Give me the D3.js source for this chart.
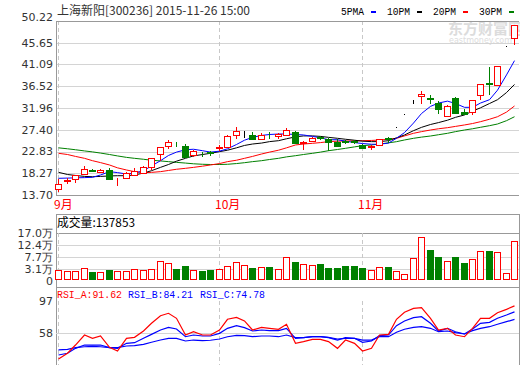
<!DOCTYPE html>
<html>
<head>
<meta charset="utf-8">
<script src="https://cdn.jsdelivr.net/npm/d3@7"></script>
<style>
  body { margin: 0; background: #fff; }
  svg { display: block; }
</style>
</head>
<body>
<svg class="chart" width="520" height="365"></svg>
<script>
// trading days shown (2015-09-02 .. 2015-11-26)
var days = [
  "09-02","09-07","09-08","09-09","09-10","09-11","09-14","09-15","09-16","09-17",
  "09-18","09-21","09-22","09-23","09-24","09-25","09-28","09-29","09-30",
  "10-08","10-09","10-12","10-13","10-14","10-15","10-16","10-19","10-20","10-21",
  "10-22","10-23","10-26","10-27","10-28","10-29","10-30",
  "11-02","11-03","11-04","11-05","11-06","11-09","11-10","11-11","11-12","11-13",
  "11-16","11-17","11-18","11-19","11-20","11-23","11-24","11-25","11-26"
];
var monthStarts = ["09-02", "10-08", "11-02"];
var monthLabels = ["9月", "10月", "11月"];

var open  = [14.96,16.65,17.0,18.1,18.85,18.63,18.95,16.55,17.27,17.9, 18.4,19.51,22.24,23.98,24.45,23.98,22.03,22.4,22.7,23.6, 23.71,26.36,26.5,26.29,25.39,26.6,26.08,26.29,27.0,24.6, 25.03,25.9,25.39,24.89,25.0,25.05,24.2,23.75,24.19,25.7, 27.91,30.64,33.64,34.5,34.1,32.95,30.34,34.0,31.18,31.06, 34.75,37.3,36.79,45.03,46.59];
var high  = [17.0,17.2,17.96,19.72,19.22,19.09,19.4,17.25,18.6,19.43, 19.85,21.4,23.71,25.24,24.75,24.34,23.1,22.65,22.95,24.19, 26.29,28.04,27.07,26.86,26.78,26.93,26.78,27.76,27.2,25.1, 25.81,26.1,25.6,25.38,25.3,25.3,24.4,24.1,25.5,25.94, 27.91,30.64,33.64,35.5,34.69,33.43,32.65,34.2,31.69,33.64, 36.93,40.63,40.78,45.03,49.38];
var low   = [14.54,16.3,16.37,18.1,18.67,18.53,17.0,15.9,17.27,17.8, 18.4,19.2,21.05,23.5,23.95,21.6,21.9,21.95,22.2,23.14, 23.71,25.6,25.94,25.39,25.39,25.6,25.6,26.29,24.68,23.3, 25.03,25.4,23.14,24.05,24.6,24.6,23.5,23.35,24.19,24.89, 27.91,30.64,32.95,32.95,32.95,30.85,30.34,30.97,30.64,30.76, 33.85,34.84,36.79,45.03,45.4];
var close = [16.01,16.75,17.96,19.09,18.75,18.95,17.1,16.7,18.25,18.8, 19.5,21.4,23.71,24.89,24.3,21.74,23.0,22.25,22.55,23.8, 26.15,27.07,26.5,25.39,26.36,26.4,26.44,27.34,24.68,24.8, 25.6,25.7,24.89,24.05,24.85,24.9,23.5,23.9,25.38,25.5, 27.91,30.64,33.64,34.9,33.9,31.69,32.38,30.97,30.64,33.64, 36.93,37.0,40.78,45.03,49.38];

var ma5  = [17.2,17.25,17.3,17.35,17.41,17.9,18.6,18.4,18.1,18.3, 18.8,19.8,20.9,22.0,22.7,23.2,23.3,23.0,22.7,22.9, 23.4,24.3,25.2,25.8,26.2,26.4,26.5,26.5,26.4,26.3, 26.0,25.7,25.3,25.3,25.0,24.7,24.5,24.35,24.35,24.6, 25.6,26.8,28.8,30.8,32.3,33.0,33.4,32.9,32.1,32.1, 33.0,33.7,35.7,38.9,41.9];
var ma10 = [18.46,18.0,17.8,17.6,17.54,17.6,17.7,17.75,17.75,17.9, 18.3,18.8,19.5,20.1,20.8,21.4,21.9,22.2,22.45,22.8, 23.1,23.6,24.1,24.4,24.6,24.9,25.1,25.5,25.9,26.1, 26.1,26.0,25.8,25.6,25.4,25.2,25.0,24.9,24.9,25.1, 25.7,26.3,27.2,27.9,28.5,28.9,29.4,30.0,30.5,31.3, 32.0,32.9,33.7,35.2,36.9];
var ma20 = [22.45,22.2,21.8,21.4,20.9,20.5,20.0,19.4,18.95,18.6, 18.38,18.45,18.6,18.85,19.1,19.3,19.5,19.75,20.0,20.3, 20.7,21.0,21.4,21.8,22.3,22.7,23.1,23.6,24.2,24.4, 24.55,24.7,24.9,25.0,25.03,25.05,25.1,25.15,25.24,25.4, 25.6,26.1,26.65,27.0,27.34,27.6,27.83,28.1,28.4,28.7, 29.09,29.6,30.13,31.1,32.38];
var ma30 = [23.6,23.4,23.2,22.95,22.75,22.5,22.2,21.9,21.6,21.4, 21.2,21.0,20.85,20.7,20.55,20.4,20.25,20.15,20.1,20.1, 20.15,20.3,20.48,20.7,20.9,21.15,21.4,21.7,21.95,22.2, 22.45,22.7,23.0,23.25,23.5,23.8,24.05,24.2,24.4,24.65, 24.89,25.25,25.6,25.85,26.08,26.35,26.65,27.0,27.34,27.6, 27.91,28.25,28.6,29.3,30.13];

// volume in 万 (10k shares)
var volume = [2.83,2.56,2.56,3.49,2.17,2.06,2.83,2.56,2.56,3.1, 3.0,3.2,6.3,5.53,3.2,4.37,2.83,2.56,2.83,3.2, 4.37,5.9,4.75,3.6,3.87,4.1,3.1,7.73,5.92,5.15, 4.64,5.15,3.6,3.6,4.37,4.37,3.6,2.83,3.87,3.99, 2.44,1.29,7.34,15.46,10.55,7.85,6.3,7.85,5.53,6.96, 10.17,10.17,9.78,1.67,13.7853];

var rsiA = [25.8,32.9,43.1,55.5,51.4,54.3,40.3,35.7,51.4,52.6, 60.5,70,79.4,82.4,76.2,55.5,59.6,55.5,55.5,61.7, 75,77.4,72.9,61.7,65,63.8,62.6,68.8,45.2,47.3, 50.2,50.2,47.3,39,49.3,45.2,35.7,39,55.5,56.3, 75,83.6,88.5,89.3,76.2,61.7,63.8,55.5,53.4,63.8, 76.2,76.2,83.1,87.3,91.62];
var rsiB = [30.8,32.9,39,43.1,43.1,43.1,39.8,39,45.2,46, 51.4,56.3,61.7,65,63,53.4,55.5,54.3,54.3,57.6, 63.8,67,64.6,60.5,61.7,60.9,60.9,63.8,51.4,52.2, 53.4,53.4,52.2,49.3,52.2,51.4,46.5,48.1,54.7,55.5, 67,72.9,77,78.2,70,60.5,63.8,59.6,56.8,63, 70,71.2,76.2,80.3,84.21];
var rsiC = [37,37.8,39.8,41,41.5,41,39.8,39.8,41.9,42.3, 44,46.5,49.3,51.4,51.4,48.1,49.3,48.6,49,50.6, 53.4,55.1,54.7,53.4,54.3,54.3,53.4,55.5,52.2,52.2, 53.4,53.4,52.6,50.6,51.4,51.4,49.3,49.3,53.4,53.4, 58.9,62.6,65,65.8,63.8,59.6,60.5,58.4,56.8,60.9, 63.8,65.8,68.8,72,74.78];

var priceTicks = [13.70, 18.27, 22.83, 27.40, 31.96, 36.52, 41.09, 45.65, 50.22];
var volTicks = [0, 3.1, 7.7, 12.4, 17.0];
var volTickLabels = ["0", "3.1万", "7.7万", "12.4万", "17.0万"];
var rsiTicks = [58, 97];

var RED = "#ff0000", GREEN = "#008000", BLUE = "#0000ff", BLACK = "#000000";
var GRID = "#d4d4d4", BORDER = "#999999", TXT = "#333333";
var L = 56, R = 519;

var svg = d3.select("svg.chart");

var x = d3.scaleBand().domain(days).range([54, 518.5]).padding(0);
function cx(d) { return Math.round(x(d) + x.bandwidth() / 2); }

var yP = d3.scaleLinear().domain([13.70, 50.22]).range([195, 21]);
var yV = d3.scaleLinear().domain([0, 17.0]).range([277.4, 233]);
var yR = d3.scaleLinear().domain([58, 97]).range([333, 301.5]);

function candleColor(i) {
  if (close[i] > open[i]) return RED;
  if (close[i] < open[i]) return GREEN;
  return BLACK;
}

// title and legend
svg.append("text").attr("x", 57).attr("y", 15)
  .attr("font-family", "Noto Sans CJK SC").attr("font-size", 12).attr("fill", TXT)
  .attr("textLength", 193).attr("lengthAdjust", "spacingAndGlyphs")
  .text("上海新阳[300236] 2015-11-26 15:00");

var legend = [
  {label: "5PMA", color: BLUE, x: 341},
  {label: "10PM", color: BLACK, x: 387},
  {label: "20PM", color: RED, x: 433},
  {label: "30PM", color: GREEN, x: 479}
];
legend.forEach(function(l) {
  svg.append("text").attr("x", l.x).attr("y", 15)
    .attr("font-family", "Liberation Mono").attr("font-size", 11).attr("fill", BLACK)
    .attr("textLength", 23).attr("lengthAdjust", "spacingAndGlyphs")
    .text(l.label);
  svg.append("rect").attr("x", l.x + 30).attr("y", 11).attr("width", 5).attr("height", 2)
    .attr("fill", l.color);
});

// watermark
svg.append("text").attr("x", 448).attr("y", 34)
  .attr("font-family", "Noto Sans CJK SC").attr("font-size", 15).attr("font-weight", "bold")
  .attr("fill", "#dcdcdc").text("东方财富网");
svg.append("text").attr("x", 449).attr("y", 43)
  .attr("font-family", "DejaVu Sans").attr("font-size", 8).attr("fill", "#dcdcdc")
  .text("eastmoney.com");

// ---------- main price panel ----------
var gMain = svg.append("g").attr("shape-rendering", "crispEdges");
priceTicks.forEach(function(t) {
  gMain.append("line").attr("x1", L).attr("x2", R)
    .attr("y1", Math.round(yP(t)) + 0.5).attr("y2", Math.round(yP(t)) + 0.5)
    .attr("stroke", GRID);
});
monthStarts.forEach(function(d) {
  gMain.append("line").attr("x1", cx(d) + 0.5).attr("x2", cx(d) + 0.5)
    .attr("y1", yP(50.22)).attr("y2", yP(13.70))
    .attr("stroke", "#c8c8c8").attr("stroke-dasharray", "4,3");
});
gMain.append("line").attr("x1", L).attr("x2", R).attr("y1", 21.5).attr("y2", 21.5).attr("stroke", BORDER);
gMain.append("line").attr("x1", L).attr("x2", R).attr("y1", 195.5).attr("y2", 195.5).attr("stroke", BORDER);
gMain.append("line").attr("x1", L + 0.5).attr("x2", L + 0.5).attr("y1", 21).attr("y2", 196).attr("stroke", BORDER);

priceTicks.forEach(function(t, i) {
  var top = i === priceTicks.length - 1;
  svg.append("text").attr("x", 53).attr("y", top ? yP(t) - 0.5 : yP(t))
    .attr("dy", top ? "0" : "0.36em")
    .attr("text-anchor", "end").attr("font-family", "DejaVu Sans").attr("font-size", 11)
    .attr("fill", TXT).text(t.toFixed(2));
});

// moving averages
var maSeries = [
  {values: ma30, color: GREEN},
  {values: ma20, color: RED},
  {values: ma10, color: BLACK},
  {values: ma5, color: BLUE}
];
var lineP = d3.line().x(function(d, i) { return cx(days[i]) + 0.5; }).y(function(d) { return yP(d); });
maSeries.forEach(function(s) {
  svg.append("path").datum(s.values).attr("d", lineP)
    .attr("fill", "none").attr("stroke", s.color).attr("stroke-width", 1);
});

// candles
var gCandle = svg.append("g").attr("shape-rendering", "crispEdges");
var candles = gCandle.selectAll("g.candle").data(days).enter().append("g").attr("class", "candle");
candles.append("line")
  .attr("x1", function(d) { return cx(d) + 0.5; })
  .attr("x2", function(d) { return cx(d) + 0.5; })
  .attr("y1", function(d, i) { return Math.round(yP(high[i])); })
  .attr("y2", function(d, i) { return Math.round(yP(low[i])) + 1; })
  .attr("stroke", function(d, i) { return candleColor(i); });
candles.append("rect")
  .attr("x", function(d) { return cx(d) - 2.5; })
  .attr("y", function(d, i) { return Math.round(yP(Math.max(open[i], close[i]))) + 0.5; })
  .attr("width", 6)
  .attr("height", function(d, i) {
    return Math.max(0, Math.round(yP(Math.min(open[i], close[i]))) - Math.round(yP(Math.max(open[i], close[i]))));
  })
  .attr("fill", function(d, i) { return close[i] < open[i] ? GREEN : "#fff"; })
  .attr("stroke", function(d, i) { return candleColor(i); });

// month labels
monthStarts.forEach(function(d, i) {
  svg.append("text").attr("x", cx(d) - 4).attr("y", 209)
    .attr("font-family", "Noto Sans CJK SC").attr("font-size", 12).attr("fill", RED)
    .text(monthLabels[i]);
});

// ---------- volume panel ----------
var gVol = svg.append("g").attr("shape-rendering", "crispEdges");
volTicks.forEach(function(t, i) {
  if (t === 0) return;
  gVol.append("line").attr("x1", L).attr("x2", R)
    .attr("y1", Math.round(yV(t)) + 0.5).attr("y2", Math.round(yV(t)) + 0.5)
    .attr("stroke", i === volTicks.length - 1 ? BORDER : GRID);
});
monthStarts.forEach(function(d) {
  gVol.append("line").attr("x1", cx(d) + 0.5).attr("x2", cx(d) + 0.5)
    .attr("y1", 233).attr("y2", 280)
    .attr("stroke", "#c8c8c8").attr("stroke-dasharray", "4,3");
});
gVol.append("line").attr("x1", L).attr("x2", R).attr("y1", 214.5).attr("y2", 214.5).attr("stroke", BORDER);
gVol.append("line").attr("x1", L).attr("x2", R).attr("y1", 287.5).attr("y2", 287.5).attr("stroke", BORDER);
gVol.append("line").attr("x1", L + 0.5).attr("x2", L + 0.5).attr("y1", 214).attr("y2", 365).attr("stroke", BORDER);
gVol.append("line").attr("x1", R + 0.5).attr("x2", R + 0.5).attr("y1", 214).attr("y2", 365).attr("stroke", BORDER);

gVol.selectAll("rect.vol").data(days).enter().append("rect").attr("class", "vol")
  .attr("x", function(d) { return cx(d) - 2.5; })
  .attr("y", function(d, i) { return Math.round(yV(volume[i])) + 0.5; })
  .attr("width", 6)
  .attr("height", function(d, i) { return 279 - Math.round(yV(volume[i])); })
  .attr("fill", function(d, i) { return close[i] < open[i] ? GREEN : "#fff"; })
  .attr("stroke", function(d, i) { return close[i] < open[i] ? GREEN : RED; });

volTicks.forEach(function(t, i) {
  svg.append("text").attr("x", 53).attr("y", t === 0 ? 281 : yV(t)).attr("dy", "0.36em")
    .attr("text-anchor", "end").attr("font-family", "DejaVu Sans").attr("font-size", 11)
    .attr("fill", TXT).text(volTickLabels[i]);
});
svg.append("text").attr("x", 57).attr("y", 227)
  .attr("font-family", "Noto Sans CJK SC").attr("font-size", 12).attr("fill", BLACK)
  .attr("textLength", 78).attr("lengthAdjust", "spacingAndGlyphs")
  .text("成交量:" + Math.round(volume[volume.length - 1] * 10000));

// ---------- RSI panel ----------
var gRsi = svg.append("g").attr("shape-rendering", "crispEdges");
gRsi.append("line").attr("x1", L).attr("x2", R)
  .attr("y1", Math.round(yR(58)) + 0.5).attr("y2", Math.round(yR(58)) + 0.5).attr("stroke", GRID);
monthStarts.forEach(function(d) {
  gRsi.append("line").attr("x1", cx(d) + 0.5).attr("x2", cx(d) + 0.5)
    .attr("y1", 301).attr("y2", 365)
    .attr("stroke", "#c8c8c8").attr("stroke-dasharray", "4,3");
});
rsiTicks.forEach(function(t) {
  svg.append("text").attr("x", 53).attr("y", yR(t)).attr("dy", "0.36em")
    .attr("text-anchor", "end").attr("font-family", "DejaVu Sans").attr("font-size", 11)
    .attr("fill", TXT).text(t);
});
svg.append("text").attr("x", 53).attr("y", 369).attr("dy", "0.36em")
  .attr("text-anchor", "end").attr("font-family", "DejaVu Sans").attr("font-size", 11)
  .attr("fill", TXT).text("0");

var lineR = d3.line().x(function(d, i) { return cx(days[i]) + 0.5; }).y(function(d) { return yR(d); });
[{v: rsiC, c: BLUE}, {v: rsiB, c: BLUE}, {v: rsiA, c: RED}].forEach(function(s) {
  svg.append("path").datum(s.v).attr("d", lineR)
    .attr("fill", "none").attr("stroke", s.c).attr("stroke-width", 1.2);
});

var rsiHeader = [
  {label: "RSI_A:" + rsiA[rsiA.length - 1].toFixed(2), color: RED, x: 57},
  {label: "RSI_B:" + rsiB[rsiB.length - 1].toFixed(2), color: BLUE, x: 128},
  {label: "RSI_C:" + rsiC[rsiC.length - 1].toFixed(2), color: BLUE, x: 200}
];
rsiHeader.forEach(function(h) {
  svg.append("text").attr("x", h.x).attr("y", 298)
    .attr("font-family", "Liberation Mono").attr("font-size", 11).attr("fill", h.color)
    .attr("textLength", 65).attr("lengthAdjust", "spacingAndGlyphs")
    .text(h.label);
});
</script>
</body>
</html>
